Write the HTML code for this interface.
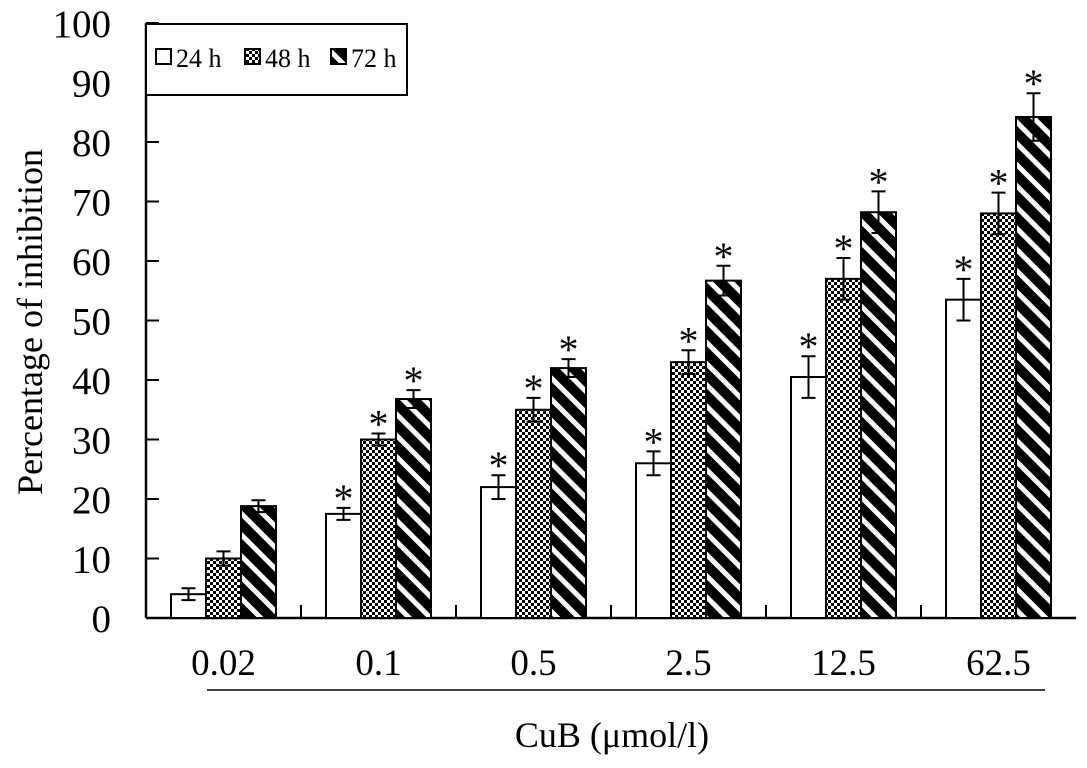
<!DOCTYPE html>
<html><head><meta charset="utf-8"><style>
body{margin:0;background:#fff}
text{font-family:"Liberation Serif",serif;fill:#000}
</style></head><body>
<svg id="chart" width="1087" height="763" xmlns="http://www.w3.org/2000/svg">
<defs>
<pattern id="checker" width="6" height="6" patternUnits="userSpaceOnUse">
<rect width="6" height="6" fill="#fff"/><rect width="3" height="3" fill="#000"/><rect x="3" y="3" width="3" height="3" fill="#000"/>
</pattern>
<pattern id="diag" width="15" height="15" patternUnits="userSpaceOnUse" patternTransform="rotate(-45)">
<rect width="15" height="15" fill="#000"/><rect width="5" height="15" fill="#fff"/>
</pattern>
</defs>
<g id="plot"></g>
</svg>
<script>
const categories=["0.02","0.1","0.5","2.5","12.5","62.5"];
const v24=[4,17.5,22,26,40.5,53.5];
const e24=[1,1,2,2,3.5,3.5];
const v48=[10,30,35,43,57,68];
const e48=[1.2,1,2,2,3.5,3.5];
const v72=[18.8,36.8,42,56.7,68.2,84.2];
const e72=[1,1.5,1.5,2.5,3.5,4];
const sig=[false,true,true,true,true,true];
const yTicks=[0,10,20,30,40,50,60,70,80,90,100];

const NS="http://www.w3.org/2000/svg";
const g=document.getElementById('plot');
const x0=146,y0=618,yTop=23,groupW=155,barW=35;
const y=v=>y0-(v/100)*(y0-yTop);
const gx=i=>x0+groupW*(i+0.5);
function el(t,a,txt){const e=document.createElementNS(NS,t);for(const k in a)e.setAttribute(k,a[k]);if(txt!==undefined)e.textContent=txt;g.appendChild(e);return e;}

let ax=el('line',{x1:x0,y1:y0,x2:x0,y2:yTop,stroke:'#000','stroke-width':2.5});


let bx=el('line',{x1:x0,y1:y0,x2:1076,y2:y0,stroke:'#000','stroke-width':2.5});



yTicks.forEach(t=>{
 let l=el('line',{x1:x0,y1:y(t),x2:x0+13,y2:y(t),stroke:'#000','stroke-width':2});
 
 
 let tx=el('text',{x:111,y:y(t)+14,'text-anchor':'end','font-size':39},t);
 
 
});
for(let i=1;i<categories.length;i++){
 let l=el('line',{x1:x0+groupW*i,y1:y0,x2:x0+groupW*i,y2:y0-13,stroke:'#000','stroke-width':2});
 
 
}
const series=[[v24,e24,'#fff','bar-24h'],[v48,e48,'url(#checker)','bar-48h'],[v72,e72,'url(#diag)','bar-72h']];
categories.forEach((c,i)=>{
 series.forEach((s,j)=>{
  const bxp=gx(i)-1.5*barW+j*barW, v=s[0][i], e=s[1][i], cx=bxp+barW/2;
  let r=el('rect',{x:bxp,y:y(v),width:barW,height:y0-y(v),fill:s[2],stroke:'#000','stroke-width':2});
  
  
  let eb=el('path',{d:`M${cx},${y(v+e)}V${y(v-e)}M${cx-7},${y(v+e)}H${cx+7}M${cx-7},${y(v-e)}H${cx+7}`,stroke:'#000','stroke-width':2,fill:'none'});
  
  
  if(sig[i]){
   let st=el('text',{x:cx,y:y(v+e)+4,'text-anchor':'middle','font-size':40},'*');
   
   
  }
 });
 let cl=el('text',{x:gx(i),y:675,'text-anchor':'middle','font-size':37},c);
 
 
});
let ul=el('line',{x1:207,y1:690,x2:1045,y2:690,stroke:'#000','stroke-width':1.5});


let xt=el('text',{x:612,y:747,'text-anchor':'middle','font-size':36},'CuB (μmol/l)');


let yt=el('text',{x:0,y:0,'text-anchor':'middle','font-size':36,transform:'translate(42,322) rotate(-90)'},'Percentage of inhibition');



let lg=el('rect',{x:146,y:24,width:261,height:71,fill:'#fff',stroke:'#000','stroke-width':2});


[['24 h','#fff',156],['48 h','url(#checker)',245],['72 h','url(#diag)',331]].forEach(a=>{
 let sw=el('rect',{x:a[2],y:49,width:15,height:15,fill:a[1],stroke:'#000','stroke-width':2});
 
 
 let lt=el('text',{x:a[2]+20,y:67,'font-size':26},a[0]);
 
 
});
</script>
</body></html>
